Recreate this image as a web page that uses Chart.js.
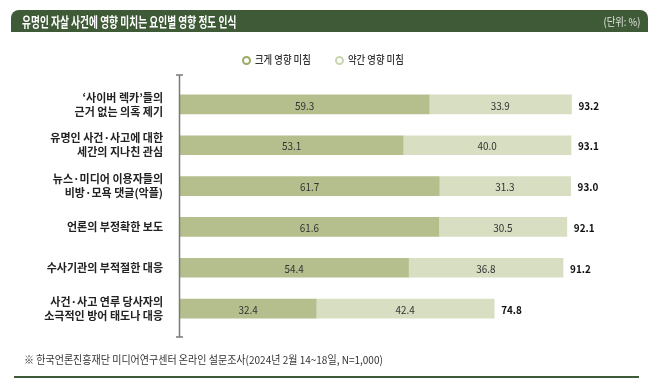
<!DOCTYPE html>
<html>
<head>
<meta charset="utf-8">
<script src="https://cdn.jsdelivr.net/npm/chart.js@4"></script>
<style>
  html, body { margin: 0; padding: 0; background: #fff; }
  body { font-family: "Noto Sans CJK KR", sans-serif; }
  #wrap { position: relative; width: 658px; height: 386px; overflow: hidden; }
  #chart { position: absolute; left: 0; top: 0; }
  .title {
    position: absolute; left: 11px; top: 10px; width: 637px; height: 22px;
    background: #3e5a37; border-radius: 8px 8px 0 0; color: #fff;
  }
  .title .main {
    position: absolute; left: 11px; top: 1px; font-size: 13.5px; font-weight: bold;
    transform: scaleX(0.72); transform-origin: left center; white-space: nowrap;
  }
  .title .unit {
    position: absolute; right: 8px; top: 3px; font-size: 11px; color: #e2e6dc;
    transform: scaleX(0.85); transform-origin: right center; white-space: nowrap;
  }
  .legend { position: absolute; top: 51px; font-size: 11px; color: #333; white-space: nowrap; font-weight: 500; }
  .legend i {
    display: inline-block; width: 5px; height: 5px; border-radius: 50%;
    border: 2.5px solid; vertical-align: middle; margin-right: 4px; position: relative; top: -1px;
  }
  .legend span { display: inline-block; transform: scaleX(0.85); transform-origin: left center; }
  .foot {
    position: absolute; left: 24px; top: 351px; font-size: 11px; color: #333; white-space: nowrap;
    transform: scaleX(0.91); transform-origin: left center;
  }
  .rule { position: absolute; left: 14px; top: 376px; width: 625px; height: 2px; background: #3e5a37; }
</style>
</head>
<body>
<div id="wrap">
  <canvas id="chart" width="658" height="386"></canvas>
  <div class="title"><span class="main">유명인 자살 사건에 영향 미치는 요인별 영향 정도 인식</span><span class="unit">(단위: %)</span></div>
  <div class="legend" style="left:242px"><i style="border-color:#9aab62"></i><span>크게 영향 미침</span></div>
  <div class="legend" style="left:335px"><i style="border-color:#cad4ae"></i><span>약간 영향 미침</span></div>
  <div class="foot">※ 한국언론진흥재단 미디어연구센터 온라인 설문조사(2024년 2월 14~18일, N=1,000)</div>
  <div class="rule"></div>
</div>
<script>
const categories = [
  ['‘사이버 렉카’들의', '근거 없는 의혹 제기'],
  ['유명인 사건·사고에 대한', '세간의 지나친 관심'],
  ['뉴스·미디어 이용자들의', '비방·모욕 댓글(악플)'],
  ['언론의 부정확한 보도'],
  ['수사기관의 부적절한 대응'],
  ['사건·사고 연루 당사자의', '소극적인 방어 태도나 대응']
];
const strongValues = [59.3, 53.1, 61.7, 61.6, 54.4, 32.4];
const slightValues = [33.9, 40.0, 31.3, 30.5, 36.8, 42.4];
const totalValues = [93.2, 93.1, 93.0, 92.1, 91.2, 74.8];

const strongColor = '#b4bf8d';
const slightColor = '#d7dec2';

// value labels inside segments + totals at bar end
const labelPlugin = {
  id: 'barLabels',
  afterDatasetsDraw(chart) {
    const ctx = chart.ctx;
    ctx.save();
    ctx.textBaseline = 'middle';
    chart.data.datasets.forEach((ds, i) => {
      const meta = chart.getDatasetMeta(i);
      meta.data.forEach((bar, j) => {
        const cx = (bar.x + bar.base) / 2;
        ctx.save();
        ctx.translate(cx, bar.y + 1);
        ctx.scale(0.9, 1);
        ctx.font = '11px "Noto Sans CJK KR", sans-serif';
        ctx.fillStyle = '#333';
        ctx.textAlign = 'center';
        ctx.fillText(ds.data[j].toFixed(1), 0, 0);
        ctx.restore();
      });
    });
    const last = chart.getDatasetMeta(chart.data.datasets.length - 1);
    const xScale = chart.scales.x;
    last.data.forEach((bar, j) => {
      ctx.save();
      ctx.translate(xScale.getPixelForValue(totalValues[j]) + 7, bar.y + 1);
      ctx.scale(0.9, 1);
      ctx.font = 'bold 11px "Noto Sans CJK KR", sans-serif';
      ctx.fillStyle = '#111';
      ctx.textAlign = 'left';
      ctx.fillText(totalValues[j].toFixed(1), 0, 0);
      ctx.restore();
    });
    ctx.restore();
  }
};

// vertical axis line with small caps
const axisPlugin = {
  id: 'axisLine',
  afterDraw(chart) {
    const ctx = chart.ctx;
    const x = chart.chartArea.left - 0.5;
    const top = chart.chartArea.top - 9;
    const bottom = chart.chartArea.bottom + 8;
    ctx.save();
    ctx.strokeStyle = '#7a7a7a';
    ctx.lineWidth = 1.5;
    ctx.beginPath();
    ctx.moveTo(x, top);
    ctx.lineTo(x, bottom);
    ctx.moveTo(x - 3.5, top);
    ctx.lineTo(x + 3.5, top);
    ctx.moveTo(x - 3.5, bottom);
    ctx.lineTo(x + 3.5, bottom);
    ctx.stroke();
    ctx.restore();
  }
};

new Chart(document.getElementById('chart'), {
  type: 'bar',
  data: {
    labels: categories,
    datasets: [
      { label: '크게 영향 미침', data: strongValues, backgroundColor: strongColor, borderWidth: 0, barThickness: 19 },
      { label: '약간 영향 미침', data: slightValues, backgroundColor: slightColor, borderWidth: 0, barThickness: 19 }
    ]
  },
  options: {
    indexAxis: 'y',
    responsive: false,
    animation: false,
    layout: { padding: { top: 84, bottom: 57, left: 0, right: 58 } },
    plugins: {
      legend: { display: false },
      tooltip: { enabled: false }
    },
    scales: {
      x: { stacked: true, min: 0, max: 100, display: false },
      y: {
        stacked: true,
        grid: { display: false, drawTicks: false },
        border: { display: false },
        afterFit: (scale) => { scale.width = 180; },
        ticks: {
          padding: 17,
          color: '#222',
          font: { family: '"Noto Sans CJK KR", sans-serif', size: 11, weight: 'bold', lineHeight: 1.27 }
        }
      }
    }
  },
  plugins: [labelPlugin, axisPlugin]
});
</script>
</body>
</html>
